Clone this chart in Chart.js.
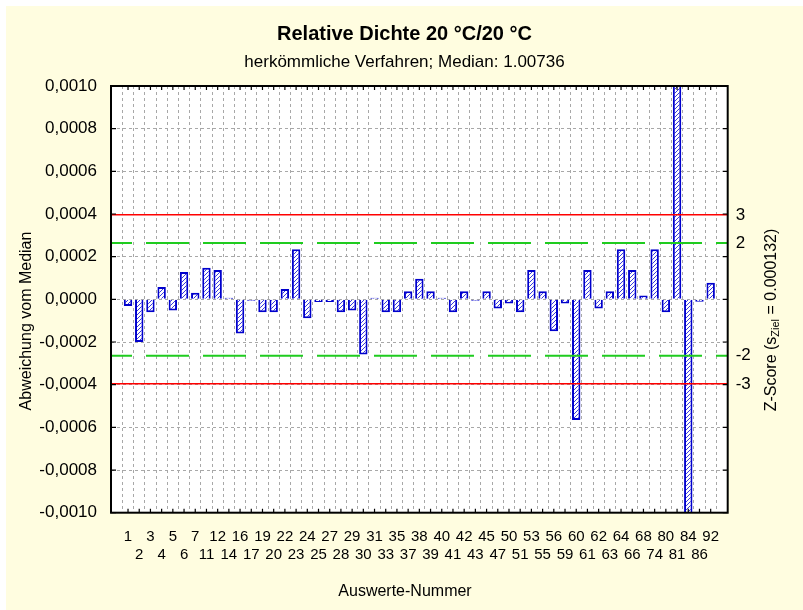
<!DOCTYPE html>
<html>
<head>
<meta charset="utf-8">
<script src="https://cdn.jsdelivr.net/npm/chart.js@4"></script>
<style>
  html, body { margin: 0; padding: 0; background: #ffffff; }
  #rahmen { position: absolute; left: 6px; top: 6px; width: 797px; height: 604px; background: #fffde0; }
  canvas { display: block; }
</style>
</head>
<body>
<div id="rahmen"><canvas id="grafik" width="797" height="604"></canvas></div>
<script>
// Daten
const auswerteNummern = ['1','2','3','4','5','6','7','11','12','14','16','17','19','20','22','23','24','25',
  '27','28','29','30','31','33','35','37','38','39','40','41','42','43','45','47','50','51','53','55','56',
  '59','60','61','62','63','64','66','68','74','80','81','84','86','92'];
const abweichungen = [-0.000031, -0.0002, -0.00006, 0.000058, -0.000052, 0.000128, 0.000031, 0.000148, 0.000138,
  0.000008, -0.00016, -0.000007, -0.00006, -0.00006, 0.000049, 0.000235, -0.000089, -0.000012,
  -0.000012, -0.00006, -0.000052, -0.000258, 0.000007, -0.00006, -0.00006, 0.000038, 0.000097, 0.000038,
  0.000007, -0.00006, 0.000038, -0.000007, 0.000038, -0.000043, -0.00002, -0.00006, 0.000138, 0.000038,
  -0.000149, -0.00002, -0.000565, 0.000138, -0.000043, 0.000038, 0.000235, 0.000138, 0.000018, 0.000235,
  -0.00006, 0.0012, -0.0012, -0.000011, 0.000078];
const yTickWerte = [-0.001, -0.0008, -0.0006, -0.0004, -0.0002, 0, 0.0002, 0.0004, 0.0006, 0.0008, 0.001];
const sZiel = 0.000132;
const zScoreTicks = [3, 2, -2, -3];
const zRot = [3, -3];
const zGruen = [2, -2];

const schrift = "'Liberation Sans', Arial, Helvetica, sans-serif";
Chart.defaults.font.family = schrift;
Chart.defaults.color = '#000';

const canvas = document.getElementById('grafik');
const ctx = canvas.getContext('2d');

// Schraffur fuer die Balken
function schraffur() {
  const c = document.createElement('canvas');
  c.width = 4; c.height = 4;
  const g = c.getContext('2d');
  g.fillStyle = '#ffffff';
  g.fillRect(0, 0, 4, 4);
  g.strokeStyle = '#3a3ae0';
  g.lineWidth = 1;
  g.beginPath();
  g.moveTo(0, 4); g.lineTo(4, 0);
  g.moveTo(-1, 1); g.lineTo(1, -1);
  g.moveTo(3, 5); g.lineTo(5, 3);
  g.stroke();
  return ctx.createPattern(c, 'repeat');
}

const zusatz = {
  id: 'zusatz',
  beforeDraw(chart) {
    const a = chart.chartArea;
    const c = chart.ctx;
    c.save();
    c.fillStyle = '#ffffff';
    c.fillRect(a.left, a.top, a.right - a.left, a.bottom - a.top);
    c.restore();
  },
  afterDatasetsDraw(chart) {
    const a = chart.chartArea;
    const c = chart.ctx;
    const y = chart.scales.y;
    const x = chart.scales.x;
    c.save();
    // Grenzlinien
    c.lineWidth = 2;
    c.strokeStyle = '#1fcc1f';
    c.setLineDash([43, 14]);
    c.lineDashOffset = 22;
    zGruen.forEach(z => {
      const py = y.getPixelForValue(z * sZiel);
      c.beginPath(); c.moveTo(a.left, py); c.lineTo(a.right, py); c.stroke();
    });
    c.setLineDash([]);
    c.lineWidth = 1.5;
    c.strokeStyle = '#ff0000';
    zRot.forEach(z => {
      const py = y.getPixelForValue(z * sZiel);
      c.beginPath(); c.moveTo(a.left, py); c.lineTo(a.right, py); c.stroke();
    });
    // Rahmen
    c.strokeStyle = '#000';
    c.lineWidth = 2;
    c.strokeRect(a.left, a.top, a.right - a.left, a.bottom - a.top);
    // Striche nach innen
    c.lineWidth = 1.2;
    c.beginPath();
    x.ticks.forEach(t => {
      const px = x.getPixelForValue(t.value);
      c.moveTo(px, a.top); c.lineTo(px, a.top + 4);
      c.moveTo(px, a.bottom); c.lineTo(px, a.bottom - 4);
    });
    yTickWerte.forEach(v => {
      const py = y.getPixelForValue(v);
      c.moveTo(a.left, py); c.lineTo(a.left + 5, py);
      c.moveTo(a.right, py); c.lineTo(a.right - 5, py);
    });
    c.stroke();
    c.restore();
  },
  afterDraw(chart) {
    const c = chart.ctx;
    c.save();
    c.fillStyle = '#000';
    c.font = '16px ' + schrift;
    c.textAlign = 'center';
    c.textBaseline = 'middle';
    c.fillText('Auswerte-Nummer', 399, 586);
    c.translate(21, 315);
    c.rotate(-Math.PI / 2);
    c.fillText('Abweichung vom Median', 0, 0);
    c.restore();

    // rechter Achsentitel mit Index
    c.save();
    c.fillStyle = '#000';
    c.translate(766, 314);
    c.rotate(-Math.PI / 2);
    c.textBaseline = 'middle';
    c.textAlign = 'left';
    const teil1 = 'Z-Score (s', teil2 = 'Ziel', teil3 = ' = 0.000132)';
    c.font = '16px ' + schrift;
    const w1 = c.measureText(teil1).width, w3 = c.measureText(teil3).width;
    c.font = '11px ' + schrift;
    const w2 = c.measureText(teil2).width;
    let pos = -(w1 + w2 + w3) / 2;
    c.font = '16px ' + schrift;
    c.fillText(teil1, pos, 0); pos += w1;
    c.font = '11px ' + schrift;
    c.fillText(teil2, pos, 4); pos += w2;
    c.font = '16px ' + schrift;
    c.fillText(teil3, pos, 0);
    c.restore();
  }
};

new Chart(ctx, {
  type: 'bar',
  data: {
    datasets: [{
      data: abweichungen.map((v, i) => ({ x: i + 1, y: v })),
      backgroundColor: schraffur(),
      borderColor: '#0000cc',
      borderWidth: 2,
      barPercentage: 0.75,
      categoryPercentage: 1
    }]
  },
  options: {
    responsive: false,
    animation: false,
    layout: { padding: 0 },
    plugins: {
      legend: { display: false },
      tooltip: { enabled: false },
      title: {
        display: true,
        text: 'Relative Dichte 20 °C/20 °C',
        font: { size: 20, weight: 'bold' },
        padding: { top: 16, bottom: 0 }
      },
      subtitle: {
        display: true,
        text: 'herkömmliche Verfahren; Median: 1.00736',
        font: { size: 17 },
        padding: { top: 6, bottom: 13.6 }
      }
    },
    scales: {
      x: {
        type: 'linear',
        min: 0,
        max: auswerteNummern.length + 1,
        afterBuildTicks: s => { s.ticks = auswerteNummern.map((n, i) => ({ value: i + 1 })); },
        afterFit: s => { s.height = 97.3; },
        grid: { color: '#a8a8a8', lineWidth: 1, drawTicks: false },
        border: { display: false, dash: [3, 3] },
        ticks: {
          autoSkip: false,
          maxRotation: 0,
          padding: 16,
          font: { size: 15, lineHeight: 1.15 },
          callback: (v, i) => i % 2 === 0 ? [auswerteNummern[i], ''] : ['', auswerteNummern[i]]
        }
      },
      y: {
        min: -0.001,
        max: 0.001,
        afterBuildTicks: s => { s.ticks = yTickWerte.map(v => ({ value: v })); },
        afterFit: s => { s.width = 105; },
        grid: { color: '#a8a8a8', lineWidth: 1, drawTicks: false },
        border: { display: false, dash: [3, 3] },
        ticks: {
          autoSkip: false,
          padding: 14,
          font: { size: 17 },
          callback: v => (Math.round(v * 1e4) / 1e4).toFixed(4).replace('.', ',')
        }
      },
      y2: {
        position: 'right',
        min: -0.001,
        max: 0.001,
        afterBuildTicks: s => { s.ticks = zScoreTicks.map(z => ({ value: z * sZiel })); },
        afterFit: s => { s.width = 75.3; },
        grid: { display: false, drawTicks: false },
        border: { display: false },
        ticks: {
          autoSkip: false,
          padding: 8,
          font: { size: 17 },
          callback: v => String(Math.round(v / sZiel))
        }
      }
    }
  },
  plugins: [zusatz]
});
</script>
</body>
</html>
